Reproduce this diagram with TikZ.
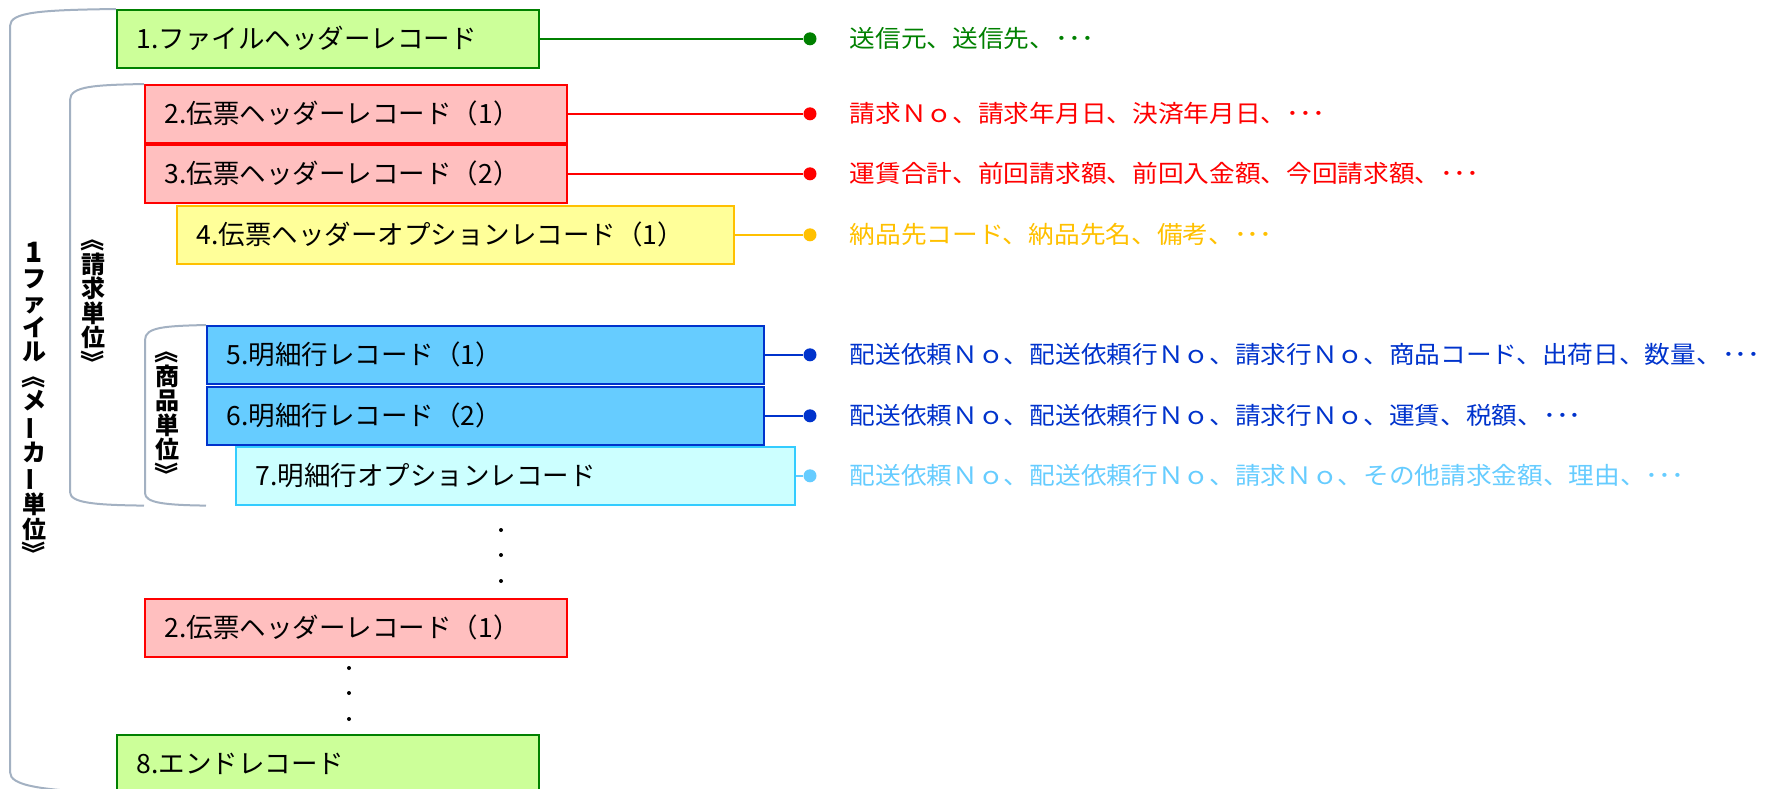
\documentclass[tikz,border=0pt]{standalone}
\usepackage{fontspec}
\setmainfont{Noto Sans CJK JP}
\newfontfamily\fieldfont[FakeStretch=1.07]{Noto Sans CJK JP}
\usetikzlibrary{positioning}

\definecolor{recgreen}{HTML}{008000}
\definecolor{fillgreen}{HTML}{CCFF99}
\definecolor{recred}{HTML}{FF0000}
\definecolor{fillred}{HTML}{FFBFBF}
\definecolor{recyellow}{HTML}{FFC000}
\definecolor{fillyellow}{HTML}{FFFF99}
\definecolor{recblue}{HTML}{0033CC}
\definecolor{fillblue}{HTML}{66CCFF}
\definecolor{reccyan}{HTML}{33CCFF}
\definecolor{linecyan}{HTML}{66CCFF}
\definecolor{fillcyan}{HTML}{CCFFFF}
\definecolor{bracketgray}{HTML}{A3B1C2}

\newcommand{\vopen}{\rotatebox[origin=c]{-90}{《}}
\newcommand{\vclose}{\rotatebox[origin=c]{-90}{》}}
\newcommand{\vbar}{\rotatebox[origin=c]{90}{ー}}

\begin{document}
\begin{tikzpicture}[x=1pt, y=-1pt,
    rec/.style={draw, rectangle, line width=1.6pt, anchor=north west, align=left,
minimum height=58pt, inner xsep=20pt, text width=382pt,
font=\fontsize{26.5}{30}\selectfont},
    wide/.style={text width=517pt},
    dotmark/.style={circle, fill, inner sep=0pt, minimum size=13pt},
    field/.style={anchor=west, inner sep=0pt, font=\fieldfont\fontsize{24}{28}\selectfont},
    link/.style={line width=1.6pt},
    bracket/.style={draw=bracketgray, line width=2pt},
    unit/.style={align=center, inner sep=0pt, font=\bfseries\fontsize{24}{24.5}\selectfont},
    vdot/.style={circle, fill=black, inner sep=0pt, minimum size=4pt}]
\useasboundingbox (0,0) rectangle (1765,788);

% record boxes
\node[rec, draw=recgreen, fill=fillgreen] (filehead) at (116,9) {1.ファイルヘッダーレコード};
\node[rec, draw=recred, fill=fillred] (slip1) at (144,84) {2.伝票ヘッダーレコード（1）};
\node[rec, draw=recred, fill=fillred] (slip2) at (144,144) {3.伝票ヘッダーレコード（2）};
\node[rec, wide, draw=recyellow, fill=fillyellow] (slipopt) at (176,205) {4.伝票ヘッダーオプションレコード（1）};
\node[rec, wide, draw=recblue, fill=fillblue] (detail1) at (206,325) {5.明細行レコード（1）};
\node[rec, wide, draw=recblue, fill=fillblue] (detail2) at (206,386) {6.明細行レコード（2）};
\node[rec, draw=reccyan, fill=fillcyan, text width=519pt] (detopt) at (235,446) {7.明細行オプションレコード};
\node[rec, draw=recred, fill=fillred] (slipnext) at (144,598) {2.伝票ヘッダーレコード（1）};
\node[rec, draw=recgreen, fill=fillgreen] (endrec) at (116,734) {8.エンドレコード};

% continuation dots
\node[vdot] (gapa1) at (501,530) {};
\node[vdot] (gapa2) at (501,555) {};
\node[vdot] (gapa3) at (501,581) {};
\node[vdot] (gapb1) at (349,668) {};
\node[vdot] (gapb2) at (349,693) {};
\node[vdot] (gapb3) at (349,719) {};

% field lists
\coordinate (dotcol) at (810,0);
\node[dotmark, recgreen] (d1) at (filehead.east -| dotcol) {};
\node[dotmark, recred] (d2) at (slip1.east -| dotcol) {};
\node[dotmark, recred] (d3) at (slip2.east -| dotcol) {};
\node[dotmark, recyellow] (d4) at (slipopt.east -| dotcol) {};
\node[dotmark, recblue] (d5) at (detail1.east -| dotcol) {};
\node[dotmark, recblue] (d6) at (detail2.east -| dotcol) {};
\node[dotmark, linecyan] (d7) at (detopt.east -| dotcol) {};

\node[field, text=recgreen, right=33pt of d1] (f1) {送信元、送信先、･･･};
\node[field, text=recred, right=33pt of d2] (f2) {請求Ｎｏ、請求年月日、決済年月日、･･･};
\node[field, text=recred, right=33pt of d3] (f3) {運賃合計、前回請求額、前回入金額、今回請求額、･･･};
\node[field, text=recyellow, right=33pt of d4] (f4) {納品先コード、納品先名、備考、･･･};
\node[field, text=recblue, right=33pt of d5] (f5) {配送依頼Ｎｏ、配送依頼行Ｎｏ、請求行Ｎｏ、商品コード、出荷日、数量、･･･};
\node[field, text=recblue, right=33pt of d6] (f6) {配送依頼Ｎｏ、配送依頼行Ｎｏ、請求行Ｎｏ、運賃、税額、･･･};
\node[field, text=linecyan, right=33pt of d7] (f7) {配送依頼Ｎｏ、配送依頼行Ｎｏ、請求Ｎｏ、その他請求金額、理由、･･･};

\draw[link, recgreen] (filehead) -- (d1);
\draw[link, recred] (slip1) -- (d2);
\draw[link, recred] (slip2) -- (d3);
\draw[link, recyellow] (slipopt) -- (d4);
\draw[link, recblue] (detail1) -- (d5);
\draw[link, recblue] (detail2) -- (d6);
\draw[link, linecyan] (detopt) -- (d7);

% grouping brackets
\draw[bracket] (filehead.north west) .. controls (40,10) and (10,12) .. (10,26)
    -- (10,772) .. controls (10,786) and (40,790) .. (endrec.south west);
\draw[bracket] (slip1.north west) .. controls (95,85) and (70,86) .. (70,100)
    -- (70,492) .. controls (70,503) and (95,505) .. (slip1.west |- detopt.south);
\draw[bracket] (detail1.north west) .. controls (165,326) and (145,327) .. (145,340)
    -- (145,493) .. controls (145,503) and (165,505) .. (detail1.west |- detopt.south);

% unit labels
\node[unit] (makerunit) at (34,404) {\fontsize{28}{24.5}\selectfont 1\\フ\\ァ\\イ\\ル\\\vopen\\メ\\\vbar\\カ\\\vbar\\単\\位\\\vclose};
\node[unit] (billunit) at (93,301) {\vopen\\請\\求\\単\\位\\\vclose};
\node[unit] (itemunit) at (167,413) {\vopen\\商\\品\\単\\位\\\vclose};
\end{tikzpicture}
\end{document}
